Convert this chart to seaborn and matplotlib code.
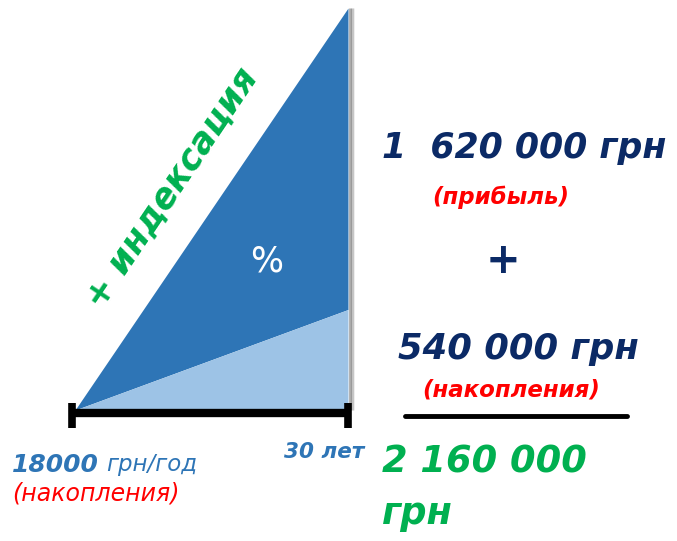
import matplotlib
matplotlib.use("Agg")
import matplotlib.pyplot as plt
import seaborn as sns
import pandas as pd

# ---- data ----
years = [0, 30]
savings_cum = [0, 540000]        # 18000 грн/год * 30 лет
total_cum = [0, 2160000]         # накопления + прибыль
profit_label = "1  620 000 грн"
savings_label = "540 000 грн"
total_label = "2 160 000"

sns.set_theme(style="white")
plt.rcParams['font.family'] = ['DejaVu Sans']

W, H = 677, 541
fig = plt.figure(figsize=(W / 100, H / 100), dpi=100)
fig.patch.set_facecolor("white")

# axes mapped onto the triangle region
left, right, bottom_px, top_px = 75, 348, 410, 8
ax = fig.add_axes([left / W, (H - bottom_px) / H, (right - left) / W, (bottom_px - top_px) / H])
ax.set_xlim(years[0], years[-1])
ax.set_ylim(0, total_cum[-1])
ax.axis("off")

df = pd.DataFrame({"year": years, "savings": savings_cum, "total": total_cum})

DARK = "#2E75B6"
LIGHT = "#9DC3E6"

# shadow along right edge
for off, a in ((0.2, 0.45), (0.4, 0.25), (0.6, 0.1)):
    ax.plot([years[-1] + off, years[-1] + off], [0, total_cum[-1]], color="#444444", lw=2,
            alpha=a, clip_on=False, solid_capstyle="butt", zorder=0)

ax.fill_between(df["year"], df["savings"], df["total"], color=DARK, lw=0, zorder=1)
ax.fill_between(df["year"], 0, df["savings"], color=LIGHT, lw=0, zorder=2)

# base bar with end ticks
ax.plot([years[0] - 0.55, years[-1] + 0.2], [-16000, -16000], color="black", lw=6,
        solid_capstyle="butt", clip_on=False, zorder=3)
for xv in (years[0] - 0.3, years[-1]):
    ax.plot([xv, xv], [37000, -97000], color="black", lw=5.5, solid_capstyle="butt",
            clip_on=False, zorder=3)

NAVY = "#0B2A66"
RED = "#FF0000"
GREEN = "#00B050"
BLUE = "#2E75B6"

def ftext(x, y, s, **kw):
    fig.text(x / W, 1 - y / H, s, **kw)

# percent sign
ftext(267, 261, "%", color="white", fontsize=25, ha="center", va="center")

# rotated indexing label
ftext(172, 188, "+ индексация", color=GREEN, fontsize=25, fontweight="bold", fontstyle="italic",
      rotation=56, ha="center", va="center", rotation_mode="anchor")

# right side equation
ftext(524, 148, profit_label, color=NAVY, fontsize=25, fontweight="bold", fontstyle="italic",
      ha="center", va="center")
ftext(501, 197, "(прибыль)", color=RED, fontsize=16.5, fontweight="bold", fontstyle="italic",
      ha="center", va="center")
ftext(503, 261, "+", color=NAVY, fontsize=30, fontweight="bold", ha="center", va="center")
ftext(518, 349, savings_label, color=NAVY, fontsize=25.5, fontweight="bold", fontstyle="italic",
      ha="center", va="center")
ftext(511, 390, "(накопления)", color=RED, fontsize=16.5, fontweight="bold", fontstyle="italic",
      ha="center", va="center")
fig.add_artist(plt.Line2D([405 / W, 627 / W], [1 - 416 / H, 1 - 416 / H], color="black", lw=3.5))
ftext(382, 462, total_label, color=GREEN, fontsize=26.5, fontweight="bold", fontstyle="italic",
      ha="left", va="center")
ftext(382, 514, "грн", color=GREEN, fontsize=26.5, fontweight="bold", fontstyle="italic",
      ha="left", va="center")

# bottom labels
ftext(324, 452, "30 лет", color=BLUE, fontsize=15.5, fontweight="bold", fontstyle="italic",
      ha="center", va="center")
ftext(12, 465, "18000", color=BLUE, fontsize=18, fontweight="bold", fontstyle="italic",
      ha="left", va="center")
ftext(106, 465, "грн/год", color=BLUE, fontsize=16.5, fontstyle="italic", ha="left", va="center")
ftext(12, 494, "(накопления)", color=RED, fontsize=17, fontstyle="italic", ha="left", va="center")

fig.savefig("out.png", dpi=100, facecolor="white")
